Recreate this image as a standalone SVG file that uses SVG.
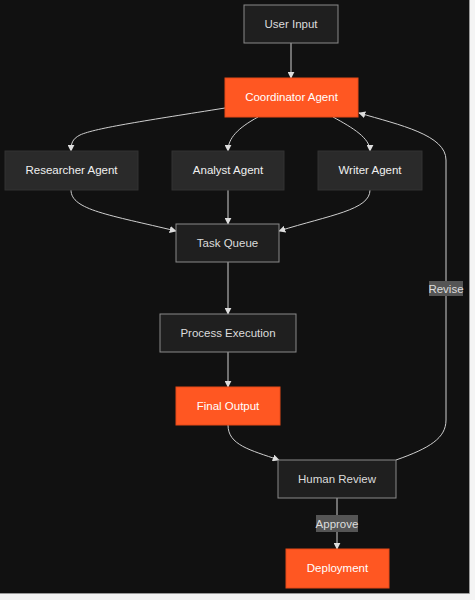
<svg xmlns="http://www.w3.org/2000/svg" width="475" height="600" viewBox="0 0 475 600">
<style>
.dark rect{fill:#1f1f1f;stroke:#8a8a8a;stroke-width:1}
.agent rect{fill:#2a2a2a;stroke:#333;stroke-width:1}
.orange rect{fill:#ff5722;stroke:#e64a19;stroke-width:1}
text{font-family:"Liberation Sans",Arial,sans-serif;font-size:11.5px;text-anchor:middle;dominant-baseline:central}
.dark text{fill:#dcdcdc}
.agent text{fill:#f0f0f0}
.orange text{fill:#ffffff}
.edge{fill:none;stroke:#cfcfcf;stroke-width:1;marker-end:url(#arr)}
.lbl rect{fill:#555555}
.lbl text{fill:#dddddd}
</style>
<defs>
<marker id="arr" viewBox="0 0 10 10" refX="9" refY="5" markerWidth="7" markerHeight="7" markerUnits="userSpaceOnUse" orient="auto">
<path d="M0,0 L10,5 L0,10 z" fill="#dddddd"/>
</marker>
</defs>
<rect x="0" y="0" width="475" height="600" fill="#f4f4f4"/>
<rect x="0" y="0" width="469" height="593" fill="#111111"/>
<path d="M469.5,0 L469.5,593.5 L0,593.5" fill="none" stroke="#9a9a9a" stroke-width="1"/>
<g id="connectors">
<path class="edge" d="M291,43 L291,78"/>
<path class="edge" d="M225,108 C150,120 95,128 80,135 C72,139 71,144 71,151"/>
<path class="edge" d="M258,117 C238,128 228,138 228,151"/>
<path class="edge" d="M333,117 C353,128 370,138 370,151"/>
<path class="edge" d="M396,460 C430,448 446,438 446,420 L446,160 C446,135 400,125 359,113"/>
<path class="edge" d="M71,190 C71,210 110,215 176,231"/>
<path class="edge" d="M228,190 L228,224"/>
<path class="edge" d="M370,190 C370,210 330,215 279,231"/>
<path class="edge" d="M228,262 L228,314"/>
<path class="edge" d="M228,352 L228,387"/>
<path class="edge" d="M228,425 C228,445 250,450 279,460"/>
<path class="edge" d="M337,498 L337,549"/>
</g>
<g id="label-revise" class="lbl"><rect x="429" y="281" width="34" height="15"/><text x="446" y="288.5">Revise</text></g>
<g id="label-approve" class="lbl"><rect x="316" y="515" width="42" height="17"/><text x="337" y="523.5">Approve</text></g>
<g id="user-input" class="dark"><rect x="244" y="5" width="94" height="38"/><text x="291" y="24">User Input</text></g>
<g id="coordinator" class="orange"><rect x="225" y="78" width="133" height="39"/><text x="291.5" y="97">Coordinator Agent</text></g>
<g id="researcher" class="agent"><rect x="5" y="151" width="133" height="39"/><text x="71.5" y="170">Researcher Agent</text></g>
<g id="analyst" class="agent"><rect x="172" y="151" width="112" height="39"/><text x="228" y="170">Analyst Agent</text></g>
<g id="writer" class="agent"><rect x="318" y="151" width="104" height="39"/><text x="370" y="170">Writer Agent</text></g>
<g id="task-queue" class="dark"><rect x="176" y="224" width="103" height="38"/><text x="227.5" y="243">Task Queue</text></g>
<g id="process-execution" class="dark"><rect x="160" y="314" width="136" height="38"/><text x="228" y="333">Process Execution</text></g>
<g id="final-output" class="orange"><rect x="176" y="387" width="104" height="38"/><text x="228" y="406">Final Output</text></g>
<g id="human-review" class="dark"><rect x="278" y="460" width="118" height="38"/><text x="337" y="479">Human Review</text></g>
<g id="deployment" class="orange"><rect x="286" y="549" width="103" height="39"/><text x="337.5" y="568">Deployment</text></g>
</svg>
